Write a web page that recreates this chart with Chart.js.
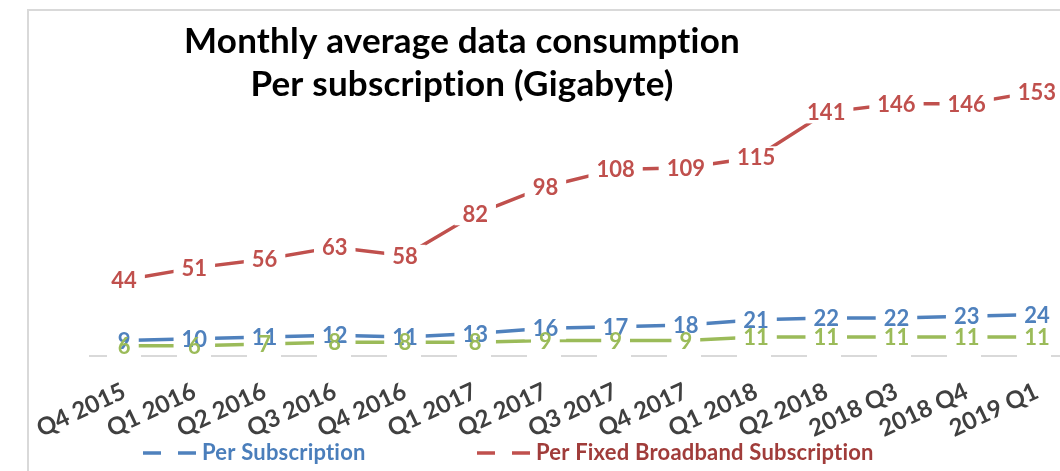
<!DOCTYPE html>
<html><head><meta charset="utf-8">
<script src="https://cdn.jsdelivr.net/npm/chart.js@4/dist/chart.umd.min.js"></script>
<style>
html,body{margin:0;padding:0;background:#fff;overflow:hidden;}
#wrap{position:relative;width:1060px;height:471px;overflow:hidden;}
#frame{position:absolute;left:27px;top:9px;width:1100px;height:500px;border-left:2px solid #d9d9d9;border-top:2px solid #d9d9d9;pointer-events:none;}
canvas{position:absolute;left:0;top:0;}
</style></head>
<body><div id="wrap"><canvas id="c" width="1072" height="471"></canvas><div id="frame"></div></div>
<script>
const categories = ['Q4 2015','Q1 2016','Q2 2016','Q3 2016','Q4 2016','Q1 2017','Q2 2017','Q3 2017','Q4 2017','Q1 2018','Q2 2018','2018 Q3','2018 Q4','2019 Q1'];
const perFixedBroadband = [44,51,56,63,58,82,98,108,109,115,141,146,146,153];
const perSubscription = [9,10,11,12,11,13,16,17,18,21,22,22,23,24];
const perMobile = [6,6,7,8,8,8,9,9,9,11,11,11,11,11];
const titleLines = ['Monthly average data consumption','Per subscription (Gigabyte)'];
const legendLabels = ['Per Subscription','Per Fixed Broadband Subscription'];

const FONT = 'Lato';

const labelPlugin = {
  id: 'pointLabels',
  afterDatasetsDraw(chart) {
    const ctx = chart.ctx;
    ctx.save();
    ctx.font = 'bold 22px ' + FONT;
    const items = [];
    chart.data.datasets.forEach((ds, i) => {
      const meta = chart.getDatasetMeta(i);
      meta.data.forEach((pt, j) => {
        const txt = String(ds.data[j]);
        items.push({x: pt.x, y: pt.y, txt, w: ctx.measureText(txt).width, color: ds.labelColor});
      });
    });
    ctx.fillStyle = '#ffffff';
    items.forEach(it => ctx.fillRect(it.x - it.w / 2 - 8, it.y - 11, it.w + 16, 22));
    ctx.textAlign = 'center';
    ctx.textBaseline = 'middle';
    items.forEach(it => { ctx.fillStyle = it.color; ctx.fillText(it.txt, it.x, it.y + 1); });
    ctx.restore();
  }
};

const decorPlugin = {
  id: 'decor',
  afterDraw(chart) {
    const ctx = chart.ctx;
    ctx.save();
    try { ctx.letterSpacing = '0.2px'; } catch (e) {}
    // title
    ctx.fillStyle = '#000000';
    ctx.textAlign = 'center';
    ctx.textBaseline = 'middle';
    ctx.font = 'bold 35px ' + FONT;
    ctx.fillText(titleLines[0], 462, 42);
    ctx.fillText(titleLines[1], 462, 85);
    // legend
    const leg = [
      {x: 143, color: '#4f81bd', text: '#4a7ebb', label: legendLabels[0]},
      {x: 477, color: '#c0504d', text: '#a03c3a', label: legendLabels[1]}
    ];
    ctx.textAlign = 'left';
    ctx.font = 'bold 22px ' + FONT;
    leg.forEach(l => {
      ctx.strokeStyle = l.color;
      ctx.lineWidth = 3.5;
      ctx.setLineDash([18, 17]);
      ctx.beginPath();
      ctx.moveTo(l.x, 453);
      ctx.lineTo(l.x + 53, 453);
      ctx.stroke();
      ctx.setLineDash([]);
      ctx.fillStyle = l.text;
      ctx.fillText(l.label, l.x + 59, 453);
    });
    ctx.restore();
  }
};

const lineDs = (label, data, color) => ({
  label, data, borderColor: color, backgroundColor: color, labelColor: color,
  borderWidth: 3.5, pointRadius: 0, tension: 0, fill: false
});

new Chart(document.getElementById('c'), {
  type: 'line',
  data: {
    labels: categories,
    datasets: [
      lineDs('Per Fixed Broadband Subscription', perFixedBroadband, '#c0504d'),
      lineDs('Per Subscription', perSubscription, '#4f81bd'),
      lineDs('Per Mobile Subscription', perMobile, '#9bbb59')
    ]
  },
  options: {
    responsive: false, animation: false, devicePixelRatio: 1,
    layout: {padding: {left: 89, top: 45, right: 0, bottom: 0}},
    plugins: {legend: {display: false}, title: {display: false}, tooltip: {enabled: false}},
    scales: {
      x: {
        offset: true,
        grid: {display: false},
        border: {display: false},
        ticks: {autoSkip: false, minRotation: 25, maxRotation: 25, padding: 13, color: '#404040',
                font: {family: FONT, weight: 'bold', size: 24}},
        afterFit(s) { s.height = 115; }
      },
      y: {
        min: 0, max: 180,
        ticks: {display: false},
        border: {display: false, dash: [36, 34], dashOffset: 18},
        grid: {drawTicks: false, lineWidth: 2, color: c => (c.tick && c.tick.value === 0) ? '#d9d9d9' : 'rgba(0,0,0,0)'},
        afterFit(s) { s.width = 0; }
      }
    }
  },
  plugins: [labelPlugin, decorPlugin]
});
</script>
</body></html>
